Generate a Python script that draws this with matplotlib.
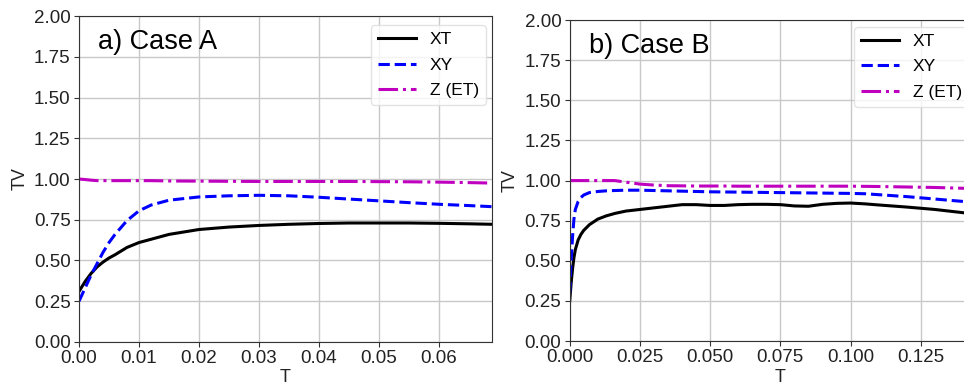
import numpy as np
import matplotlib
matplotlib.use('Agg')
import matplotlib.pyplot as plt

plt.rcParams['font.family'] = ['Liberation Sans', 'DejaVu Sans']

# Case A
t_a = [0.0, 0.001, 0.002, 0.003, 0.004, 0.005, 0.006, 0.008, 0.010, 0.012, 0.015,
       0.020, 0.025, 0.030, 0.035, 0.040, 0.045, 0.050, 0.055, 0.060, 0.065, 0.069]
xt_a = [0.31, 0.37, 0.42, 0.46, 0.49, 0.515, 0.535, 0.58, 0.61, 0.63, 0.66,
        0.69, 0.705, 0.715, 0.722, 0.727, 0.73, 0.73, 0.73, 0.728, 0.725, 0.722]
xy_a = [0.25, 0.33, 0.41, 0.48, 0.55, 0.61, 0.66, 0.745, 0.805, 0.84, 0.87,
        0.89, 0.897, 0.9, 0.897, 0.888, 0.877, 0.866, 0.855, 0.845, 0.837, 0.83]
z_a = [1.0, 0.997, 0.993, 0.99, 0.99, 0.99, 0.99, 0.99, 0.99, 0.99, 0.988,
       0.987, 0.986, 0.985, 0.985, 0.985, 0.985, 0.984, 0.983, 0.981, 0.978, 0.975]

# Case B
t_b = [0.0, 0.0005, 0.001, 0.0015, 0.002, 0.003, 0.004, 0.005, 0.007, 0.010, 0.013,
       0.016, 0.020, 0.025, 0.030, 0.035, 0.040, 0.045, 0.050, 0.055, 0.060, 0.065,
       0.070, 0.075, 0.080, 0.085, 0.090, 0.095, 0.100, 0.105, 0.110, 0.120, 0.130,
       0.140, 0.150]
xt_b = [0.25, 0.36, 0.45, 0.52, 0.57, 0.63, 0.665, 0.69, 0.725, 0.76, 0.78,
        0.795, 0.81, 0.82, 0.83, 0.84, 0.85, 0.85, 0.845, 0.845, 0.85, 0.852,
        0.852, 0.85, 0.842, 0.84, 0.852, 0.858, 0.86, 0.855, 0.848, 0.835, 0.82,
        0.80, 0.78]
xy_b = [0.3, 0.5, 0.65, 0.76, 0.82, 0.87, 0.895, 0.91, 0.925, 0.932, 0.936,
        0.938, 0.94, 0.94, 0.938, 0.936, 0.934, 0.932, 0.93, 0.929, 0.928, 0.927,
        0.926, 0.925, 0.924, 0.923, 0.922, 0.921, 0.92, 0.918, 0.912, 0.9, 0.885,
        0.87, 0.85]
z_b = [1.0, 1.0, 1.0, 1.0, 1.0, 1.0, 1.0, 1.0, 1.0, 1.0, 1.0,
       1.0, 0.99, 0.978, 0.972, 0.968, 0.967, 0.966, 0.966, 0.966, 0.965, 0.965,
       0.965, 0.965, 0.965, 0.965, 0.965, 0.965, 0.965, 0.964, 0.963, 0.96, 0.957,
       0.952, 0.948]

labels = ['XT', 'XY', 'Z (ET)']
titles = ['a) Case A', 'b) Case B']

fig = plt.figure(figsize=(9.64, 3.85), dpi=100)
ax1 = fig.add_axes([0.082, 0.112, 0.428, 0.846])
ax2 = fig.add_axes([0.591, 0.114, 0.437, 0.834])


def draw(ax, t, xt, xy, z, title, xmax, ticks, leg_anchor):
    ax.plot(t, xt, color='k', lw=2.2, ls='-', label=labels[0])
    ax.plot(t, xy, color='b', lw=2.2, ls='--', label=labels[1])
    ax.plot(t, z, color='m', lw=2.2, ls='-.', label=labels[2])
    ax.set_xlim(0, xmax)
    ax.set_ylim(0, 2)
    ax.set_xticks(ticks)
    ax.set_yticks(np.arange(0, 2.01, 0.25))
    ax.grid(True, color='#c8c8c8', lw=1)
    ax.set_axisbelow(True)
    for s in ax.spines.values():
        s.set_color('#333333')
    ax.tick_params(labelsize=13.5, length=3.5, color='#333333', labelcolor='#222222', pad=2.5)
    ax.set_xlabel('T', fontsize=13, labelpad=1.5, color='#222222')
    ax.set_ylabel('TV', fontsize=13, labelpad=4, color='#222222')
    ax.text(0.045, 0.92, title, transform=ax.transAxes, fontsize=19.5, va='center', ha='left')
    ax.legend(loc='upper left', bbox_to_anchor=leg_anchor, fontsize=12.5, framealpha=0.8,
              edgecolor='#dddddd', handlelength=2.2, handletextpad=0.8,
              borderaxespad=0.0, labelspacing=0.58)


draw(ax1, t_a, xt_a, xy_a, z_a, titles[0], 0.0688, [0, 0.01, 0.02, 0.03, 0.04, 0.05, 0.06],
     (0.707, 0.972))
ax1.set_xticklabels(['0.00', '0.01', '0.02', '0.03', '0.04', '0.05', '0.06'])
draw(ax2, t_b, xt_b, xy_b, z_b, titles[1], 0.15, [0, 0.025, 0.05, 0.075, 0.1, 0.125],
     (0.675, 0.978))
ax2.set_xticklabels(['0.000', '0.025', '0.050', '0.075', '0.100', '0.125'])

fig.savefig('out.png', dpi=100)
